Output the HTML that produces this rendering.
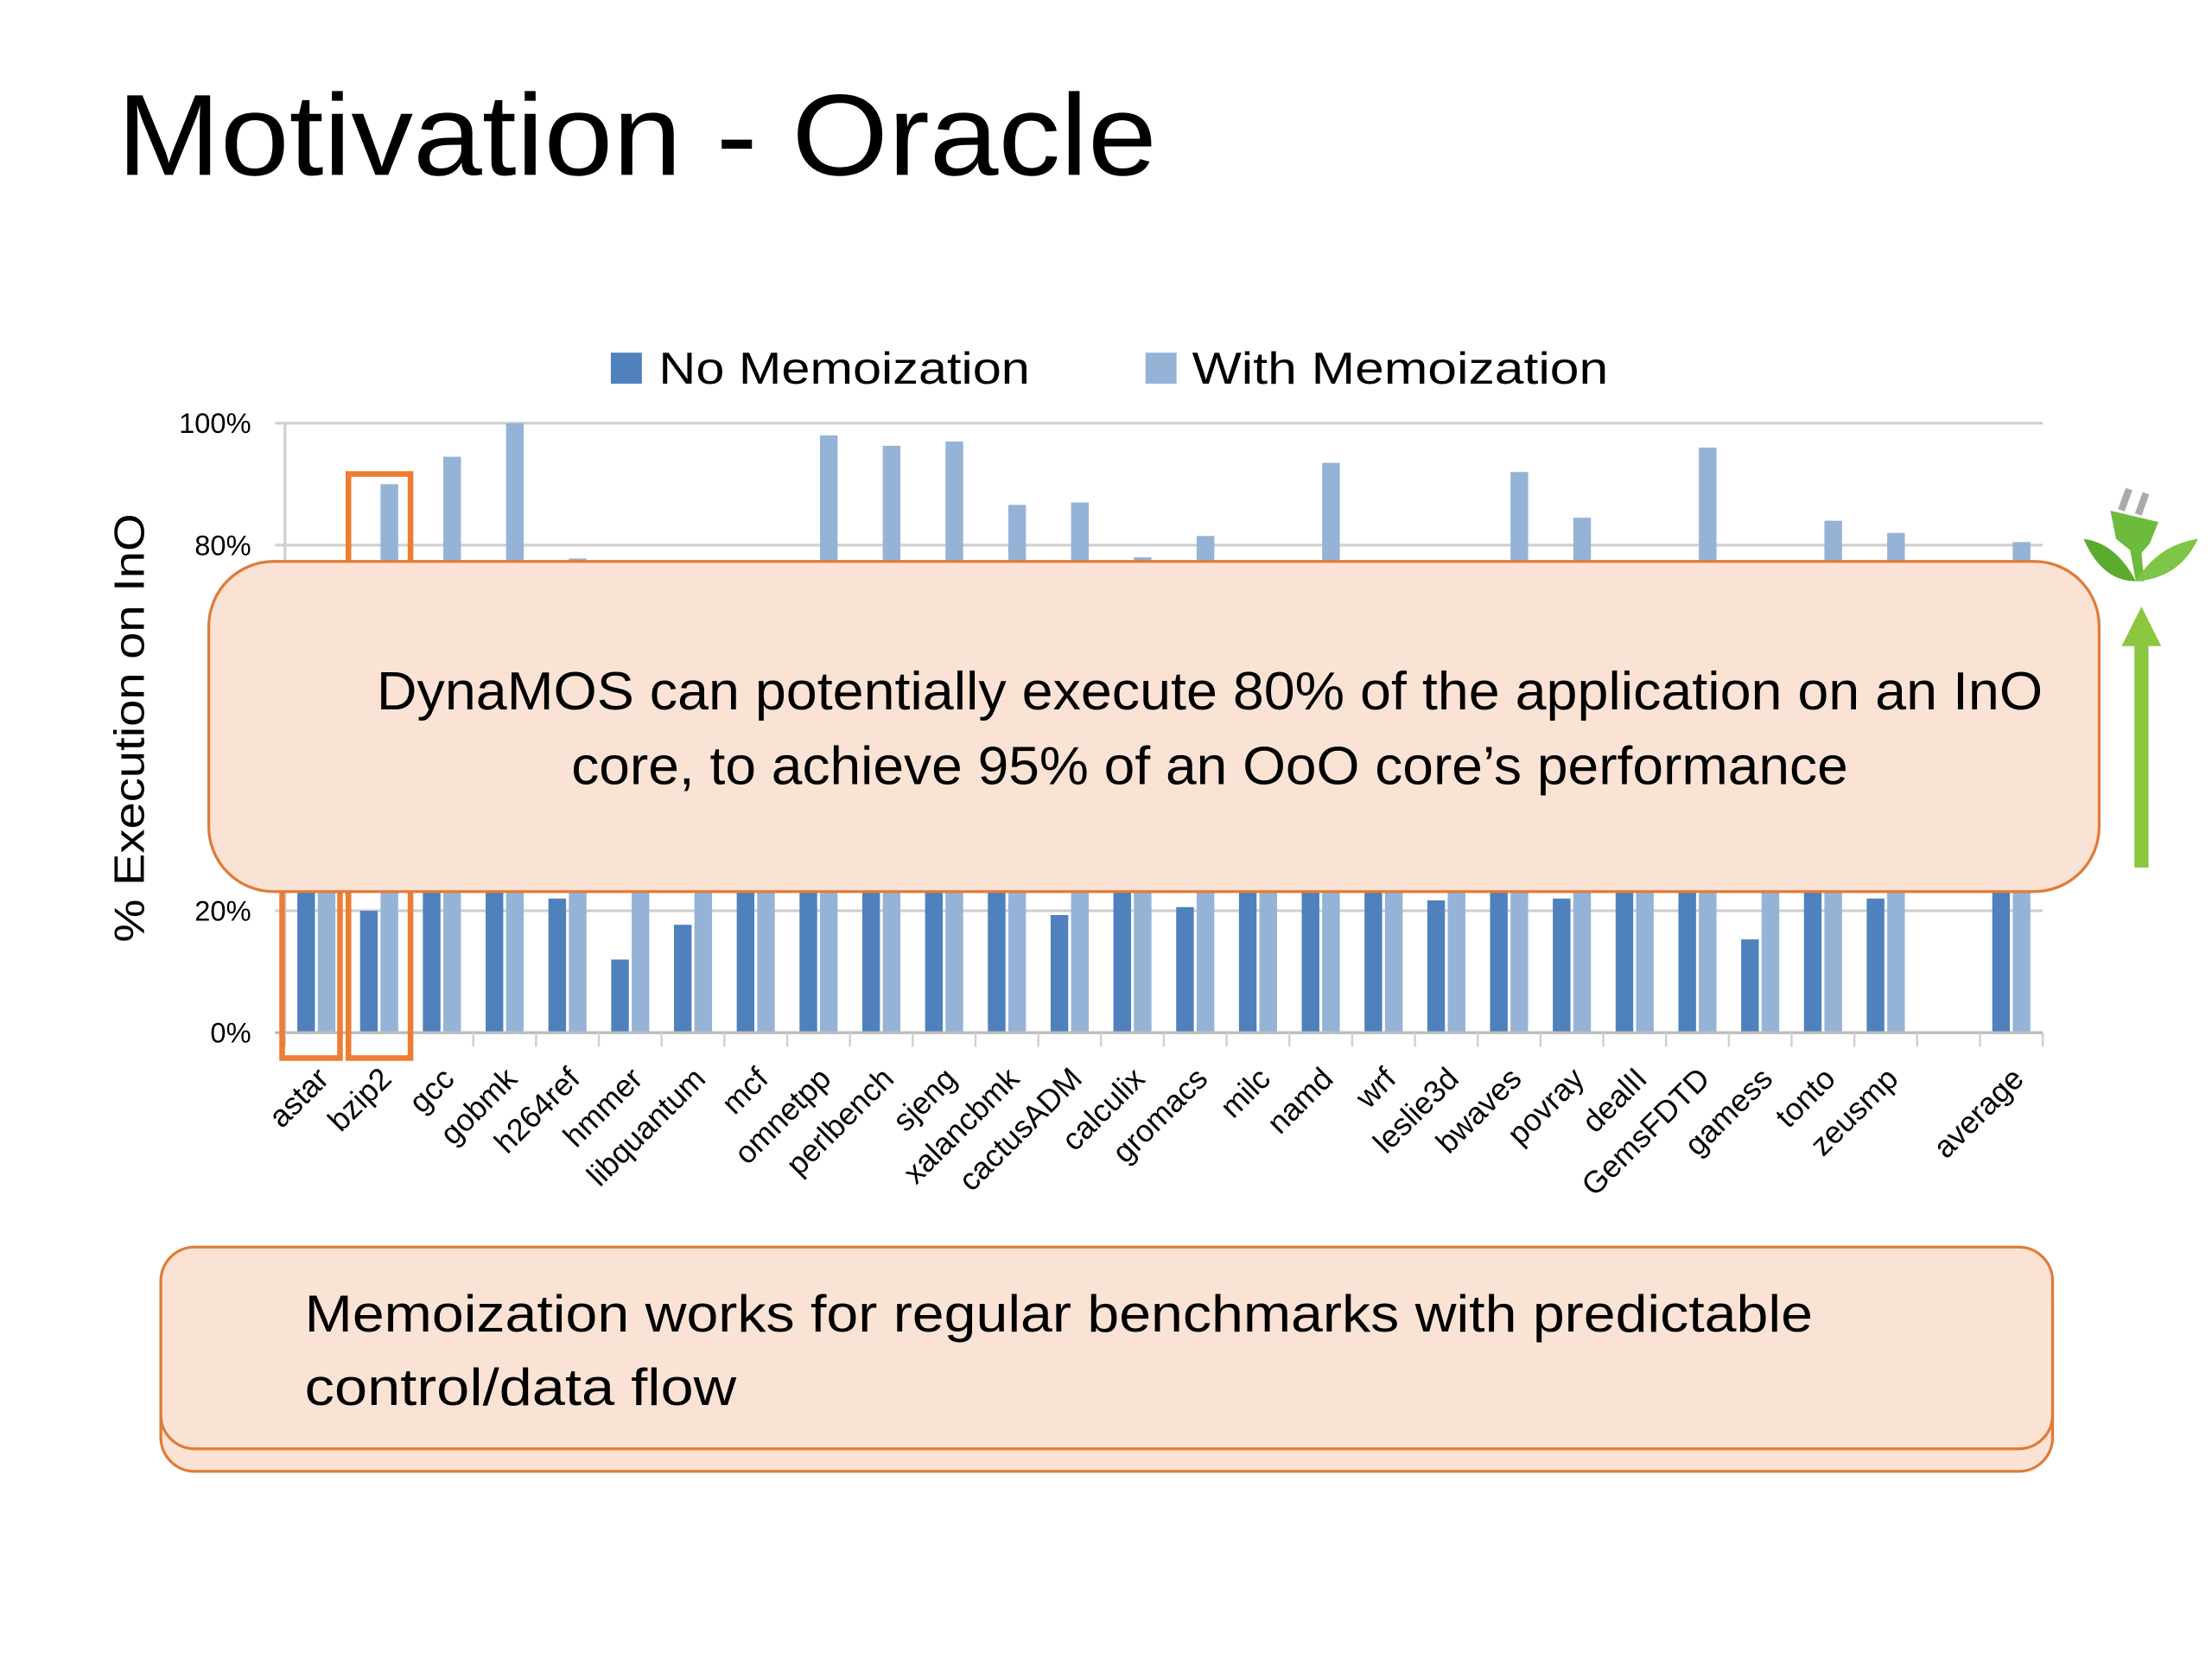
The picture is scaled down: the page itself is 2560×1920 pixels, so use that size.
<!DOCTYPE html>
<html><head><meta charset="utf-8"><style>
html,body{margin:0;padding:0;background:#fff;}
svg{display:block;font-family:"Liberation Sans",sans-serif;}
</style></head><body>
<svg id="slide" width="2560" height="1920" viewBox="0 0 1568 1176" xmlns="http://www.w3.org/2000/svg">
<rect x="0" y="0" width="1568" height="1176" fill="#fff"/>
<text x="83" y="124" font-size="82" fill="#000" textLength="737" lengthAdjust="spacingAndGlyphs">Motivation - Oracle</text>

<g>
<rect x="433" y="250" width="22" height="22" fill="#4f81bd"/>
<text x="467" y="272" font-size="32" textLength="263" lengthAdjust="spacingAndGlyphs">No Memoization</text>
<rect x="812" y="250" width="22" height="22" fill="#95b3d7"/>
<text x="845" y="272" font-size="32" textLength="295" lengthAdjust="spacingAndGlyphs">With Memoization</text>
</g>

<text transform="translate(102,516) rotate(-90)" text-anchor="middle" font-size="30" textLength="304" lengthAdjust="spacingAndGlyphs">% Execution on InO</text>

<g id="grid"></g>
<g id="yticks"></g>
<g id="bars"></g>
<g id="xaxis"></g>
<g id="xlabels"></g>

<rect x="200" y="420" width="41" height="330" fill="none" stroke="#ed7d31" stroke-width="4"/>
<rect x="247" y="336" width="44" height="414" fill="none" stroke="#ed7d31" stroke-width="4"/>

<g>
<rect x="148" y="398" width="1340" height="234" rx="46" fill="#fae3d4" stroke="#e07b39" stroke-width="2"/>
<text x="267" y="503" font-size="38" textLength="1181" lengthAdjust="spacingAndGlyphs">DynaMOS can potentially execute 80% of the application on an InO</text>
<text x="405" y="556" font-size="38" textLength="905" lengthAdjust="spacingAndGlyphs">core, to achieve 95% of an OoO core’s performance</text>
</g>

<g>
<rect x="1513" y="455" width="10" height="160" fill="#8dc63f"/>
<polygon points="1504,458 1518,430 1532,458" fill="#8dc63f"/>
</g>
<g>
<rect x="1504" y="346" width="5" height="16" fill="#aaa" transform="rotate(20 1506 354)"/>
<rect x="1516" y="349" width="5" height="16" fill="#aaa" transform="rotate(20 1518 357)"/>
<path d="M1496,362 L1530,370 L1524,385 L1518,392 L1520,412 L1514,412 L1510,390 L1500,382 Z" fill="#6cbb3c"/>
<path d="M1477,382 Q1500,385 1514,412 Q1490,412 1477,382 Z" fill="#5aab2e"/>
<path d="M1558,382 Q1530,386 1514,412 Q1545,410 1558,382 Z" fill="#7fc547"/>
</g>

<g>
<rect x="114" y="900" width="1341" height="143" rx="24" fill="#fae3d4" stroke="#e07b39" stroke-width="2"/>
<rect x="114" y="884" width="1341" height="143" rx="24" fill="#fae3d4" stroke="#e07b39" stroke-width="2"/>
<text x="216" y="944" font-size="37" textLength="1069" lengthAdjust="spacingAndGlyphs">Memoization works for regular benchmarks with predictable</text>
<text x="216" y="996" font-size="37" textLength="306" lengthAdjust="spacingAndGlyphs">control/data flow</text>
</g>

<script>
const categories = ["astar","bzip2","gcc","gobmk","h264ref","hmmer","libquantum","mcf","omnetpp","perlbench","sjeng","xalancbmk","cactusADM","calculix","gromacs","milc","namd","wrf","leslie3d","bwaves","povray","dealII","GemsFDTD","gamess","tonto","zeusmp","","average"];
const noMemo = [45,20,40,45,22,12,17.7,50,40,45,40,40,19.3,45,20.6,45,40,45,21.7,40,22,45,40,15.3,40,22,null,40];
const withMemo = [70,90,94.5,100,77.8,60,65,70,98,96.3,97,86.6,87,78,81.5,70,93.5,70,70,92,84.5,75,96,70,84,82,null,80.5];
const yTicks = [0,20,40,60,80,100];
const yTickLabels = ["0%","20%","4","6","80%","100%"];

const NS = "http://www.w3.org/2000/svg";
const X0 = 202, X1 = 1448, Y0 = 732, Y100 = 300;
const slots = categories.length;
const slotW = (X1 - X0) / slots;
function y(v){ return Y0 - (Y0 - Y100) * v / 100; }
function slotX(i){ return X0 + slotW * i; }
function mk(tag, attrs, parent){ const e = document.createElementNS(NS, tag); for (const k in attrs) e.setAttribute(k, attrs[k]); parent.appendChild(e); return e; }

const grid = document.getElementById('grid');
const yt = document.getElementById('yticks');
yTicks.forEach((t, i) => {
  const ln = mk('line', {x1: 195, x2: X1, y1: y(t), y2: y(t), stroke: i === 0 ? '#bdbdbd' : '#d0d0d0', 'stroke-width': 2}, grid);
  
  
  const tx = mk('text', {x: 178, y: y(t) + 7, 'text-anchor': 'end', 'font-size': 20}, yt);
  tx.textContent = yTickLabels[i];
  
  
});
mk('line', {x1: X0, x2: X0, y1: Y100, y2: Y0, stroke: '#d0d0d0', 'stroke-width': 2}, grid);

const bars = document.getElementById('bars');
const bw = 12.5;
categories.forEach((c, i) => {
  const cx = slotX(i) + slotW / 2;
  if (noMemo[i] != null) {
    const r = mk('rect', {x: cx - bw - 1, y: y(noMemo[i]), width: bw, height: Y0 - y(noMemo[i]), fill: '#4f81bd'}, bars);
    
    
  }
  if (withMemo[i] != null) {
    const r = mk('rect', {x: cx + 1, y: y(withMemo[i]), width: bw, height: Y0 - y(withMemo[i]), fill: '#95b3d7'}, bars);
    
    
  }
});

const xa = document.getElementById('xaxis');
mk('line', {x1: X0, x2: X1, y1: Y0, y2: Y0, stroke: '#bdbdbd', 'stroke-width': 2}, xa);
for (let k = 0; k <= slots; k++) {
  const xx = X0 + slotW * k;
  mk('line', {x1: xx, x2: xx, y1: Y0, y2: Y0 + 10, stroke: '#d0d0d0', 'stroke-width': 1.5}, xa);
}
const xl = document.getElementById('xlabels');
categories.forEach((c, i) => {
  if (!c) return;
  const cx = slotX(i) + slotW / 2 + 10;
  const t = mk('text', {x: 0, y: 0, 'text-anchor': 'end', 'font-size': 22, transform: 'translate(' + cx + ',766) rotate(-45)'}, xl);
  t.textContent = c;
  
  
});
</script>
</svg>
</body></html>
